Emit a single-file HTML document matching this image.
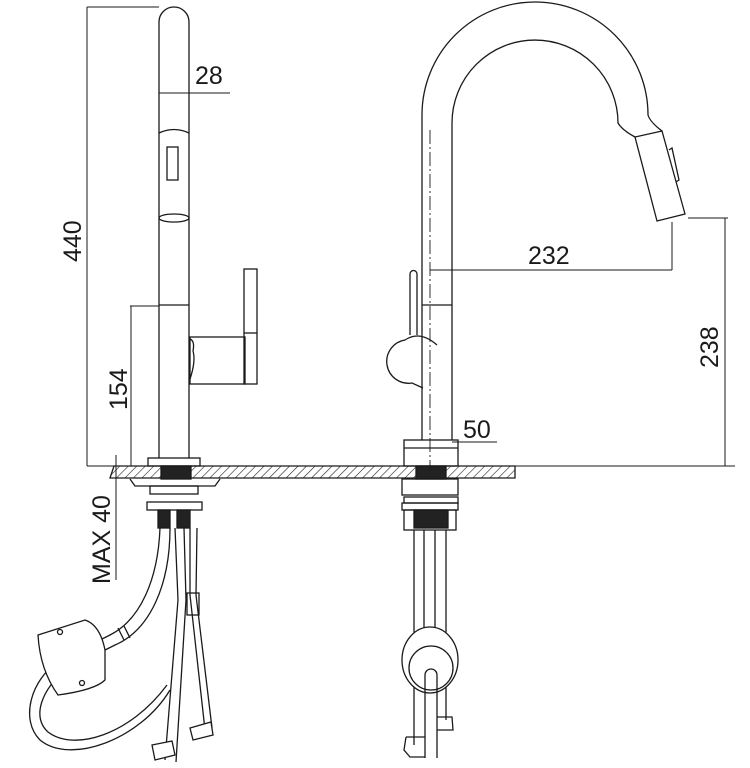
<!DOCTYPE html>
<html><head><style>html,body{margin:0;padding:0;background:#fff}svg{display:block}</style></head>
<body>
<svg width="750" height="768" viewBox="0 0 750 768" xmlns="http://www.w3.org/2000/svg" font-family="Liberation Sans, sans-serif">
<defs>
<pattern id="h" width="6" height="6" patternUnits="userSpaceOnUse" patternTransform="rotate(45)">
<line x1="0" y1="0" x2="0" y2="6" stroke="#222" stroke-width="1.2"/>
</pattern>
</defs>
<g fill="none" stroke="#1a1a1a" stroke-width="1.3">
<!-- counter -->
<path d="M114 466 L515 466 L515 478 L110 478 Z" fill="url(#h)"/>
<line x1="515" y1="466" x2="735" y2="466" stroke-width="1"/>
<rect x="161" y="466" width="30" height="13" fill="#222"/>
<rect x="416" y="466" width="30" height="13" fill="#222"/>

<!-- LEFT FAUCET -->
<path d="M159 458 L159 22 A15 15 0 0 1 189 22 L189 458"/>
<path d="M159 133 Q174 126 189 133"/>
<ellipse cx="174" cy="218" rx="15" ry="4"/>
<rect x="167" y="147" width="11" height="33"/>
<line x1="159" y1="305" x2="189" y2="305"/>
<rect x="190" y="337" width="55" height="47"/>
<rect x="244" y="269" width="13" height="115"/>
<line x1="244" y1="333" x2="257" y2="333"/>
<path d="M190 339 q5 2 3 12 q3 10 -3 28"/>
<rect x="148" y="458" width="52" height="8"/>
<!-- under left -->
<path d="M130 479 L135 486 L215 486 L220 479"/>
<rect x="150" y="486" width="48" height="8"/>
<rect x="147" y="502" width="55" height="8"/>
<rect x="158" y="510" width="12" height="18" fill="#222"/>
<rect x="177" y="510" width="13" height="18" fill="#222"/>
<!-- hoses -->
<path d="M160 528 C158 580 140 620 110 635 L100 640"/>
<path d="M170 528 C170 585 150 630 115 645 L105 650"/>
<path d="M60 660 C30 680 20 720 40 740 C70 765 140 740 170 690"/>
<path d="M68 668 C40 690 32 718 48 732 C74 752 130 735 167 685"/>
<path d="M175 528 L178 600 L165 760"/>
<path d="M184 528 L186 600 L176 762"/>
<path d="M190 528 L190 595 L205 730"/>
<path d="M197 528 L196 595 L212 728"/>
<rect x="187" y="593" width="12" height="22"/>
<path d="M38 635 L85 620 Q100 625 105 650 L105 680 Q95 690 58 695 Q40 670 38 635 Z" fill="#fff"/>
<circle cx="60" cy="632" r="2.5"/><circle cx="82" cy="683" r="2.5"/>
<path d="M152 745 L172 741 L175 755 L155 760 Z" fill="#fff"/>
<path d="M190 728 L211 722 L213 735 L193 740 Z" fill="#fff"/>
<path d="M118 628 l6 12 M124 626 l6 12"/>

<!-- RIGHT FAUCET -->
<path d="M422 440 L422 115 A113 113 0 0 1 648 115 Q650 122 662 131"/>
<path d="M452 440 L452 123 A83 83 0 0 1 618 123 Q622 130 635 137"/>
<path d="M635 137 L662 131 L685 214 L657 221 Z" fill="#fff"/>
<path d="M669 150 L672 148 L679 180 L676 182"/>
<line x1="430" y1="130" x2="430" y2="470" stroke-dasharray="14 3 2 3" stroke-width="0.9"/>
<line x1="422" y1="305" x2="452" y2="305"/>
<path d="M410 335 L410 274 A3.5 3.5 0 0 1 417 274 L417 335"/>
<path d="M437 345 Q420 330 405 340 A20 20 0 0 0 412 383 L423 388"/>
<rect x="404" y="440" width="54" height="26"/>
<line x1="404" y1="448" x2="458" y2="448"/>
<!-- under right -->
<rect x="402" y="479" width="56" height="16"/>
<rect x="404" y="497" width="54" height="6"/>
<rect x="402" y="503" width="56" height="7"/>
<rect x="404" y="510" width="52" height="20"/>
<rect x="414" y="510" width="34" height="18" fill="#222"/>
<line x1="414" y1="530" x2="414" y2="745"/>
<line x1="424" y1="530" x2="424" y2="640"/>
<line x1="435" y1="530" x2="435" y2="640"/>
<line x1="446" y1="530" x2="446" y2="720"/>
<ellipse cx="430" cy="660" rx="28" ry="33" fill="#fff"/>
<circle cx="431" cy="668" r="22"/>
<path d="M425 758 L425 675 A6 6 0 0 1 437 675 L437 758"/>
<path d="M406 737 L425 737 M406 737 L404 750 L410 757 L425 757"/>
<path d="M437 717 L452 717 L453 730 L437 730"/>

<!-- dimension lines -->
<g stroke-width="1">
<line x1="87" y1="7" x2="159" y2="7"/>
<line x1="87" y1="7" x2="87" y2="466"/>
<line x1="87" y1="466" x2="148" y2="466"/>
<line x1="159" y1="93" x2="230" y2="93"/>
<line x1="130" y1="306" x2="159" y2="306"/>
<line x1="131" y1="306" x2="131" y2="466"/>
<line x1="116" y1="455" x2="116" y2="580"/>
<line x1="430" y1="270" x2="672" y2="270"/>
<line x1="672" y1="222" x2="672" y2="270"/>
<line x1="688" y1="218" x2="728" y2="218"/>
<line x1="725" y1="218" x2="725" y2="466"/>
<line x1="452" y1="442" x2="497" y2="442"/>
</g>
</g>
<g fill="#1a1a1a" font-size="25">
<text x="195" y="84">28</text>
<text x="528" y="264">232</text>
<text x="463" y="438">50</text>
<text transform="translate(81,262) rotate(-90)">440</text>
<text transform="translate(127,410) rotate(-90)">154</text>
<text transform="translate(718,368) rotate(-90)">238</text>
<text transform="translate(110,584) rotate(-90)">MAX 40</text>
</g>
</svg>
</body></html>
